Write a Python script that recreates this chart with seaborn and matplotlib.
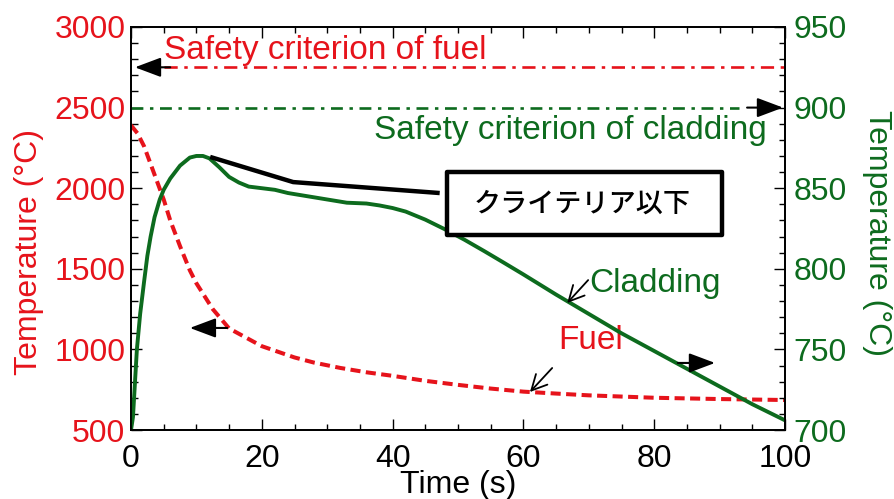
import numpy as np
import pandas as pd
import matplotlib
matplotlib.use("Agg")
import matplotlib.pyplot as plt
import seaborn as sns
from matplotlib.patches import Rectangle
from matplotlib.ticker import MultipleLocator

sns.set_style("ticks")
plt.rcParams['font.family'] = ['Liberation Sans', 'Noto Sans CJK JP', 'DejaVu Sans']

# ---- data ----
fuel_time = [0, 1, 2, 3, 4, 5, 6, 7.5, 9, 10, 12.5, 15, 17.5, 20, 22.5, 25, 28, 32, 36, 40,
             45, 50, 55, 60, 65, 70, 80, 90, 100]
fuel_temp = [2390, 2340, 2260, 2150, 2040, 1930, 1800, 1640, 1490, 1410, 1250, 1130, 1075, 1020,
             985, 950, 918, 885, 858, 836, 805, 780, 757, 738, 726, 715, 700, 692, 686]

clad_time = [0, 0.3, 0.9, 1.4, 2.0, 2.5, 3.0, 3.6, 4.4, 5, 6, 7.5, 9, 10, 11, 12, 13.5, 15, 16.5,
             18, 20, 22, 24, 27, 30, 33, 36, 38, 40, 42, 45, 48, 51, 54, 57, 60, 65, 70, 75, 80,
             85, 90, 95, 100]
clad_temp = [700, 708, 750, 772, 792, 808, 820, 832, 843, 849, 856, 864, 869, 870, 870, 868.5,
             863, 857, 853.5, 851, 850, 849, 847, 845, 843, 841, 840.5, 839.3, 837.7, 835.5,
             830.5, 824.5, 818, 811, 803.8, 796.5, 784, 772, 760, 749, 738, 727, 716, 706]

fuel_limit = 2750
clad_limit = 900

x_ticks = [0, 20, 40, 60, 80, 100]
left_ticks = [500, 1000, 1500, 2000, 2500, 3000]
right_ticks = [700, 750, 800, 850, 900, 950]

RED = "#e6131b"
GREEN = "#0d6b1e"
RED_TXT = "#e6131b"
GREEN_TXT = "#0d6b1e"

df_fuel = pd.DataFrame({"time": fuel_time, "temp": fuel_temp})
df_clad = pd.DataFrame({"time": clad_time, "temp": clad_temp})

fig = plt.figure(figsize=(8.95, 4.99), dpi=100)
ax = fig.add_axes([131/895, 1 - 430/499, (785-131)/895, (430-27)/499])
ax.set_facecolor("white")
ax2 = ax.twinx()

FS = 23
FS_A = 24

# fuel (left axis)
sns.lineplot(data=df_fuel, x="time", y="temp", ax=ax, color=RED, lw=2.9,
             linestyle=(0, (2.5, 1.35)), sort=False, estimator=None)
ax.axhline(fuel_limit, xmin=0.05, xmax=1, color=RED, lw=1.9,
           linestyle=(0, (5, 2.5, 1.3, 2.5)))
# cladding (right axis)
sns.lineplot(data=df_clad, x="time", y="temp", ax=ax2, color=GREEN, lw=2.8,
             sort=False, estimator=None)
ax2.axhline(clad_limit, xmin=0, xmax=0.93, color=GREEN, lw=1.9,
            linestyle=(0, (4.5, 2.5, 1.3, 2.5)))

ax.set_xlim(0, 100)
ax.set_ylim(500, 3000)
ax2.set_ylim(700, 950)
ax.set_xticks(x_ticks)
ax.set_yticks(left_ticks)
ax2.set_yticks(right_ticks)
ax.xaxis.set_minor_locator(MultipleLocator(5))
ax.yaxis.set_minor_locator(MultipleLocator(100))
ax2.yaxis.set_minor_locator(MultipleLocator(10))

ax.set_xlabel("")
ax.set_ylabel("")
ax2.set_ylabel("")

ax.tick_params(axis="x", which="both", direction="in", top=True, bottom=True,
               labelsize=FS, colors="black", pad=10)
ax.tick_params(axis="x", which="major", length=8, width=1.0)
ax.tick_params(axis="x", which="minor", length=4, width=1.0)
ax.tick_params(axis="y", which="both", direction="in", left=True, right=False,
               labelsize=FS, pad=4)
ax.tick_params(axis="y", which="major", length=8, width=1.0, labelcolor=RED_TXT, color="black")
ax.tick_params(axis="y", which="minor", length=5, width=1.0, color="black")
ax2.tick_params(axis="y", which="both", direction="in", right=True, left=False,
                labelsize=FS, pad=6)
ax2.tick_params(axis="y", which="major", length=8, width=1.0, labelcolor=GREEN_TXT, color="black")
ax2.tick_params(axis="y", which="minor", length=4, width=1.0, color="black")

for a in (ax, ax2):
    for s in a.spines.values():
        s.set_linewidth(1.3)
        s.set_color("black")
        s.set_visible(True)

fig.text(458/895, 1 - 485/499, "Time (s)", ha="center", va="center", fontsize=FS, color="black")
fig.text(29/895, 1 - 252/499, "Temperature (°C)", rotation=90, ha="center", va="center",
         fontsize=FS, color=RED_TXT)
fig.text(877/895, 1 - 233/499, "Temperature (°C)", rotation=270, ha="center", va="center",
         fontsize=FS, color=GREEN_TXT)

# texts
ax.text(5.0, 2857, "Safety criterion of fuel", fontsize=FS_A, color=RED_TXT, ha="left",
        va="center")
ax2.text(97.2, 885.5, "Safety criterion of cladding", fontsize=FS_A, color=GREEN_TXT,
         ha="right", va="center")
ax2.text(70.0, 791, "Cladding", fontsize=FS_A, color=GREEN_TXT, ha="left", va="center")
ax.text(65.4, 1058, "Fuel", fontsize=FS_A, color=RED_TXT, ha="left", va="center")

# filled arrows
def filled_arrow(a, x0, y0, x1, y1):
    a.annotate("", xy=(x1, y1), xytext=(x0, y0),
               arrowprops=dict(arrowstyle="-|>,head_length=0.8,head_width=0.3",
                               mutation_scale=20, color="black", lw=1.5,
                               shrinkA=0, shrinkB=0), annotation_clip=False)

filled_arrow(ax, 6.0, fuel_limit, 0.6, fuel_limit)
filled_arrow(ax2, 94.2, clad_limit, 99.7, clad_limit)
filled_arrow(ax, 14.7, 1133, 9.0, 1133)
filled_arrow(ax2, 83.6, 741.6, 89.3, 741.6)

# open arrows
def open_arrow(a, x0, y0, x1, y1):
    a.annotate("", xy=(x1, y1), xytext=(x0, y0),
               arrowprops=dict(arrowstyle="->,head_length=0.55,head_width=0.28",
                               mutation_scale=20, color="black", lw=1.3,
                               shrinkA=0, shrinkB=0))

open_arrow(ax2, 69.9, 793, 66.7, 778.8)
open_arrow(ax, 64.4, 884.6, 61.0, 735.7)

# leader line and box
ax2.plot([12.1, 24.8, 47.2], [869.4, 853.8, 847], color="black", lw=3.2,
         solid_capstyle="butt", solid_joinstyle="miter")
box = Rectangle((447/895, 1 - 235/499), (722-447)/895, (235-172)/499, transform=fig.transFigure,
                facecolor="white", edgecolor="black", lw=3.2, joinstyle="round", zorder=5)
fig.patches.append(box)
fig.text(582/895, 1 - 204/499, "クライテリア以下", fontsize=19.5, ha="center", va="center",
         family=['Noto Sans CJK JP', 'DejaVu Sans'], weight="medium", color="black", zorder=6)

fig.savefig("out.png", dpi=100)
